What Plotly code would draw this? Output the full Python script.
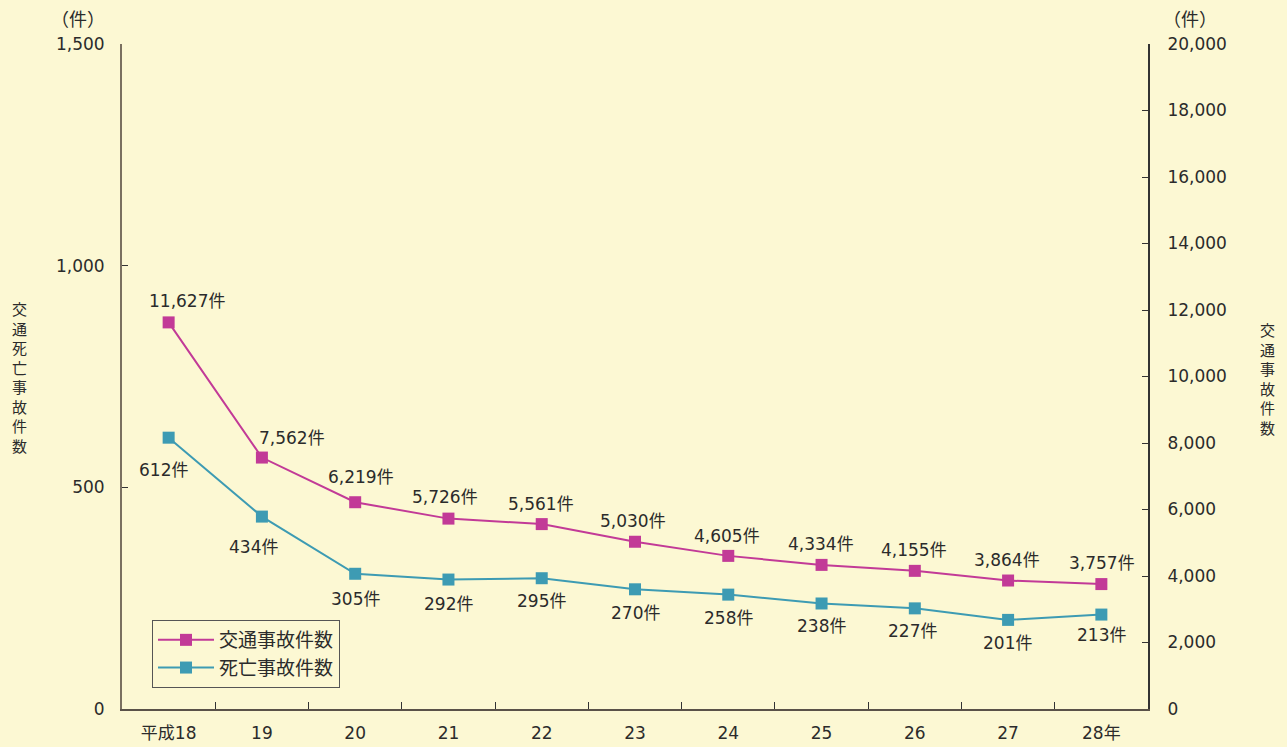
import plotly.graph_objects as go

years = ["平成18", "19", "20", "21", "22", "23", "24", "25", "26", "27", "28年"]
traffic = [11627, 7562, 6219, 5726, 5561, 5030, 4605, 4334, 4155, 3864, 3757]
deaths = [612, 434, 305, 292, 295, 270, 258, 238, 227, 201, 213]
traffic_name = "交通事故件数"
deaths_name = "死亡事故件数"
left_title = "交通死亡事故件数"
right_title = "交通事故件数"
unit = "（件）"

# label offsets (pixels) - style only
t_dx = [18, 30, 6, -3, -1, -2, -1, -1, -1, -1, 1]
t_dy = [21, 20, 25, 22, 20, 21, 20, 21, 21, 21, 21]
d_dx = [-5, -8, 0, 0, 0, 0, 0, 0, -2, -1, 0]
d_dy = [-32, -30, -25, -24, -23, -24, -23, -23, -23, -23, -20]

BG = "#FCF8D3"
MAG = "#C23A97"
TEAL = "#3D9BB3"
TXT = "#2b2b2b"
FONT = "DejaVu Sans, Noto Sans CJK JP, sans-serif"
CJK = "Noto Sans CJK JP"

L, R, T, B = 122, 1148, 44, 709
W, H = R - L, B - T

fig = go.Figure()
fig.add_trace(go.Scatter(x=years, y=traffic, name=traffic_name, yaxis="y2",
                         mode="lines+markers",
                         line=dict(color=MAG, width=2),
                         marker=dict(symbol="square", size=12, color=MAG)))
fig.add_trace(go.Scatter(x=years, y=deaths, name=deaths_name, yaxis="y",
                         mode="lines+markers",
                         line=dict(color=TEAL, width=2),
                         marker=dict(symbol="square", size=12, color=TEAL)))

anns = []
for i, v in enumerate(traffic):
    anns.append(dict(x=i, y=v, xref="x", yref="y2", text=f"{v:,}件", showarrow=False,
                     xshift=t_dx[i], yshift=t_dy[i], font=dict(size=17, color=TXT, family=FONT)))
for i, v in enumerate(deaths):
    anns.append(dict(x=i, y=v, xref="x", yref="y", text=f"{v:,}件", showarrow=False,
                     xshift=d_dx[i], yshift=d_dy[i], font=dict(size=17, color=TXT, family=FONT)))


def side_note(px, py, text, size):
    return dict(xref="x domain", yref="y domain", x=(px - L) / W, y=(B - py) / H,
                xanchor="center", yanchor="middle", text=text, showarrow=False,
                align="center", font=dict(size=size, color=TXT, family=CJK))


anns.append(side_note(78, 18, unit, 18))
anns.append(side_note(1190, 18, unit, 18))
anns.append(side_note(19, 377, "<br>".join(left_title), 15))
anns.append(side_note(1267, 378, "<br>".join(right_title), 15))

fig.update_layout(
    width=1287, height=747,
    paper_bgcolor=BG, plot_bgcolor=BG,
    margin=dict(l=L, r=1287 - R, t=T, b=747 - B, autoexpand=False),
    font=dict(family=FONT, size=17, color=TXT),
    showlegend=True,
    legend=dict(x=(152 - L) / W, y=(B - 620) / H, xanchor="left", yanchor="top",
                bgcolor=BG, bordercolor="#555555", borderwidth=1,
                font=dict(size=19, family=CJK, color=TXT),
                tracegroupgap=0, itemwidth=56),
    xaxis=dict(type="category", range=[-0.5, 10.5], showgrid=False, zeroline=False,
               showline=True, linecolor="#5a5248", linewidth=2, automargin=False,
               ticks="inside", tickson="boundaries", ticklen=7, tickcolor="#333333",
               tickfont=dict(size=17), ticklabelstandoff=8),
    yaxis=dict(range=[0, 1500], tickvals=[0, 500, 1000, 1500], tickformat=",",
               showgrid=False, zeroline=False, showline=True, linecolor="#7a7060", linewidth=2,
               automargin=False,
               ticks="inside", ticklen=6, tickcolor="#333333", ticklabelstandoff=12,
               tickfont=dict(size=17)),
    yaxis2=dict(range=[0, 20000], dtick=2000, tickformat=",", overlaying="y", side="right",
                showgrid=False, zeroline=False, showline=True, linecolor="#333333", linewidth=2,
                automargin=False,
                ticks="inside", ticklen=6, tickcolor="#333333", ticklabelstandoff=14,
                tickfont=dict(size=17)),
    annotations=anns,
)

fig.write_html("out.html", config={"displayModeBar": False},
               post_script="document.body.style.margin='0';")
